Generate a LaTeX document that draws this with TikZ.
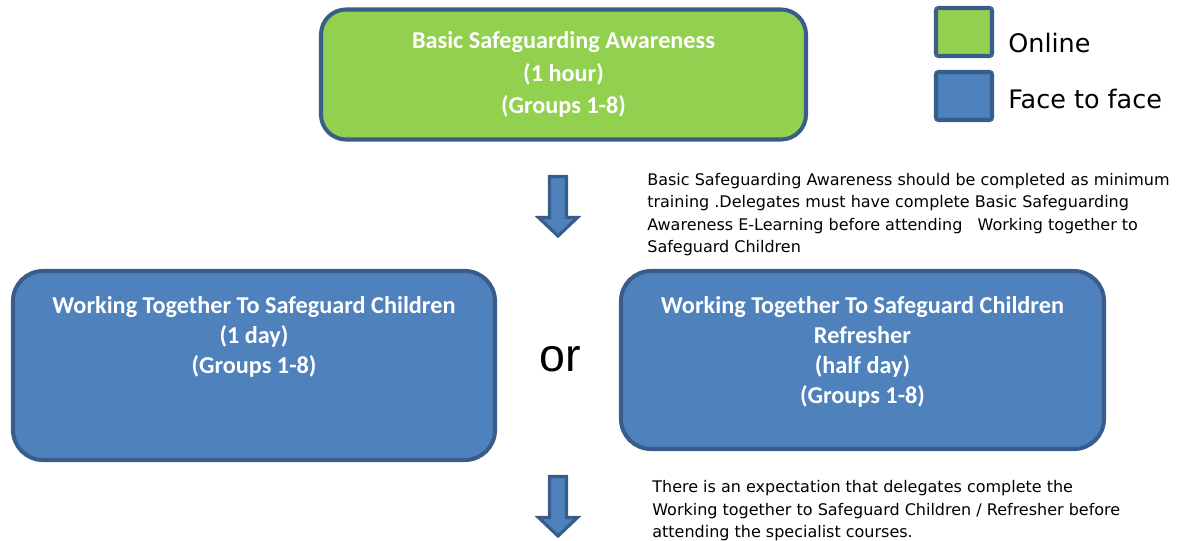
\documentclass[tikz,border=0pt]{standalone}
\usepackage{fontspec}
\usetikzlibrary{positioning,calc}
\newfontfamily\boxfont{Carlito}
\newfontfamily\notefont{DejaVu Sans}
\newfontfamily\orfont{Liberation Sans}
\definecolor{onlinegreen}{HTML}{92D050}
\definecolor{facefill}{HTML}{4F81BD}
\definecolor{edgeblue}{HTML}{385D8A}
% block arrow pointing down: #1 = x of its axis, #2 = y of its top
\newcommand{\downblock}[2]{%
  \draw[blockarrow] (#1-0.17,#2) -- (#1+0.17,#2) -- (#1+0.17,#2-0.82) -- (#1+0.39,#2-0.82)
    -- (#1,#2-1.19) -- (#1-0.39,#2-0.82) -- (#1-0.17,#2-0.82) -- cycle;}

\begin{document}
\begin{tikzpicture}[
    course/.style={draw=edgeblue, line width=2.3pt, inner sep=0pt},
    online/.style={course, fill=onlinegreen, rounded corners=0.5cm},
    facetoface/.style={course, fill=facefill, rounded corners=0.6cm},
    title/.style={text=white, align=center, inner sep=0pt, font=\boxfont\bfseries\fontsize{13.8}{17}\selectfont},
    note/.style={align=left, anchor=north west, inner sep=0pt, font=\notefont\fontsize{9.1}{12.8}\selectfont},
    key/.style={draw=edgeblue, line width=2.3pt, rounded corners=1.5pt, minimum width=1.12cm, minimum height=0.96cm},
    keylabel/.style={anchor=west, inner sep=0pt, font=\notefont\fontsize{14.5}{17}\selectfont},
    blockarrow/.style={draw=edgeblue, fill=facefill, line width=1.8pt, line join=miter}
  ]
  \useasboundingbox (0,0) rectangle (23.54,-10.82);
  %nodes
  \node[online, title, minimum width=9.70cm, minimum height=2.60cm,
        font=\boxfont\bfseries\fontsize{13.8}{18.6}\selectfont] (bsa) at (11.27,-1.49)
        {Basic Safeguarding Awareness\\(1 hour)\\(Groups 1-8)};
  \node[facetoface, minimum width=9.64cm, minimum height=3.78cm] (wtsc) at (5.08,-7.31) {};
  \node[title, below=0.55cm of wtsc.north] (wtsctext)
        {Working Together To Safeguard Children\\(1 day)\\(Groups 1-8)};
  \node[facetoface, minimum width=9.66cm, minimum height=3.56cm] (wtscr) at (17.25,-7.2) {};
  \node[title, below=0.55cm of wtscr.north] (wtscrtext)
        {Working Together To Safeguard Children\\Refresher\\(half day)\\(Groups 1-8)};
  \node[font=\orfont\fontsize{26.5}{30}\selectfont, inner sep=0pt] (or) at (11.21,-7.18) {or};
  %key
  \node[key, fill=onlinegreen] (onlinekey) at (19.28,-0.64) {};
  \node[key, fill=facefill] (facekey) at (19.28,-1.92) {};
  \node[keylabel] (onlinelabel) at (20.16,-0.86) {Online};
  \node[keylabel] (facelabel) at (20.16,-1.98) {Face to face};
  %notes
  \node[note] (bsanote) at (12.94,-3.46)
        {Basic Safeguarding Awareness should be completed as minimum\\
         training .Delegates must have complete Basic Safeguarding\\
         Awareness E-Learning before attending \ \ Working together to\\
         Safeguard Children};
  \node[note] (wtscnote) at (13.04,-9.6)
        {There is an expectation that delegates complete the\\
         Working together to Safeguard Children / Refresher before\\
         attending the specialist courses.};
  %arrows
  \downblock{11.16}{-3.53}
  \downblock{11.16}{-9.53}
\end{tikzpicture}
\end{document}
